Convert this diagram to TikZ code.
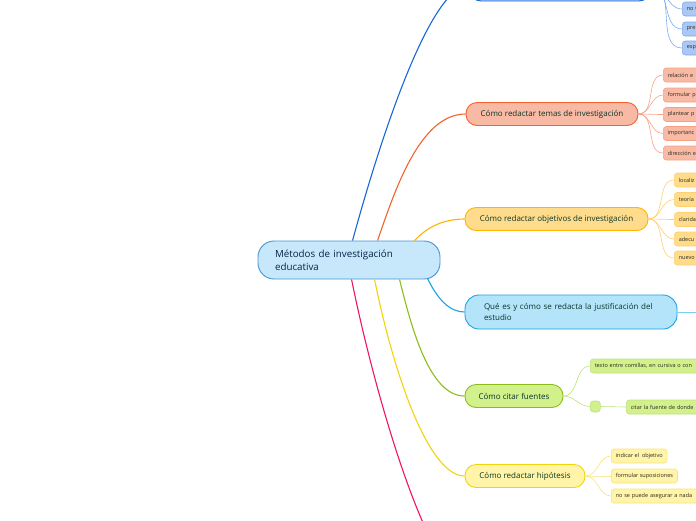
\documentclass[tikz,border=0pt]{standalone}
\usepackage{fontspec}
\setmainfont{Open Sans}
\usepackage{tikz}
\usetikzlibrary{positioning}
\usepackage{xcolor}

\definecolor{rootfill}{HTML}{C6E8FA}
\definecolor{rootline}{HTML}{4A93D0}
\definecolor{roottext}{HTML}{0A2448}
\definecolor{topictext}{HTML}{0A3526}
\definecolor{leaftext}{HTML}{2A2A20}
\definecolor{bluebranch}{HTML}{1666D8}
\definecolor{bluefill}{HTML}{A9C8F4}
\definecolor{bluetwig}{HTML}{7FAAEC}
\definecolor{redbranch}{HTML}{F2622A}
\definecolor{redfill}{HTML}{F9BAA5}
\definecolor{redtwig}{HTML}{F7A184}
\definecolor{orangebranch}{HTML}{FFB400}
\definecolor{orangefill}{HTML}{FFDC8C}
\definecolor{orangetwig}{HTML}{FFD070}
\definecolor{skybranch}{HTML}{1AA2E6}
\definecolor{skyfill}{HTML}{B3E4FA}
\definecolor{skytwig}{HTML}{7FCDF2}
\definecolor{greenbranch}{HTML}{8CBE1A}
\definecolor{greenfill}{HTML}{D2F08C}
\definecolor{greentwig}{HTML}{BFE27A}
\definecolor{yellowbranch}{HTML}{F2D40C}
\definecolor{yellowfill}{HTML}{FFF4A8}
\definecolor{yellowtwig}{HTML}{F7E27C}
\definecolor{pinkbranch}{HTML}{EE1468}

\begin{document}
\begin{tikzpicture}[
    x=1pt, y=-1pt,
    every node/.style={rectangle, draw, align=center, inner sep=0pt},
    rootbox/.style={rounded corners=16pt, minimum height=38pt, text width=148pt, inner xsep=17pt, align=left,
        fill=rootfill, draw=rootline, line width=0.9pt, text=roottext, font=\fontsize{9.8}{13}\selectfont},
    topic/.style={rounded corners=11pt, minimum height=23pt, line width=0.9pt, text=topictext,
        font=\fontsize{8}{11.5}\selectfont},
    leaf/.style={rounded corners=3pt, minimum height=14pt, anchor=west, align=left, inner xsep=4.5pt,
        line width=0.6pt, text=leaftext, font=\fontsize{5.5}{6.5}\selectfont},
    cut/.style={text width=120pt},
    branch/.style={line width=1.1pt},
    twig/.style={line width=0.6pt}
]
\useasboundingbox (0,0) rectangle (696,520);
\clip (0,0) rectangle (696,520);

% Nodes
\node[rootbox] (root) at (349,260) {Métodos de investigación\\educativa};
\node[topic, minimum width=180pt, minimum height=32pt, fill=bluefill, draw=bluebranch] (diseno) at (560,-15) {};
\node[topic, minimum width=172pt, fill=redfill, draw=redbranch] (temas) at (552,114) {Cómo redactar temas de investigación};
\node[topic, minimum width=183pt, fill=orangefill, draw=orangebranch] (objetivos) at (556.5,219) {Cómo redactar objetivos de investigación};
\node[topic, minimum height=34pt, rounded corners=14pt, text width=174pt, inner xsep=19pt, align=left,
    fill=skyfill, draw=skybranch] (justif) at (571,312) {Qué es y cómo se redacta la justificación del\\estudio};
\node[topic, minimum width=98pt, fill=greenfill, draw=greenbranch] (citar) at (514,396) {Cómo citar fuentes};
\node[topic, minimum width=120pt, fill=yellowfill, draw=yellowbranch] (hipotesis) at (525,476) {Cómo redactar hipótesis};
\coordinate (pinkend) at (462,580);
\coordinate (justend) at (705,312);

% Leaves
\node[leaf, cut, fill=bluefill, draw=bluetwig] (nota) at (682,9) {no t};
\node[leaf, cut, fill=bluefill, draw=bluetwig] (pres) at (682,29) {pre};
\node[leaf, cut, fill=bluefill, draw=bluetwig] (esp) at (682,48) {esp};

\node[leaf, cut, fill=redfill, draw=redtwig] (relacion) at (663,75) {relación e};
\node[leaf, cut, fill=redfill, draw=redtwig] (formular) at (663,95) {formular p};
\node[leaf, cut, fill=redfill, draw=redtwig] (plantear) at (663,114.5) {plantear p};
\node[leaf, cut, fill=redfill, draw=redtwig] (importancia) at (663,133.5) {importanc};
\node[leaf, cut, fill=redfill, draw=redtwig] (direccion) at (663,153) {dirección e};

\node[leaf, cut, fill=orangefill, draw=orangetwig] (localiz) at (674,180) {localiz};
\node[leaf, cut, fill=orangefill, draw=orangetwig] (teoria) at (674,199.5) {teoría};
\node[leaf, cut, fill=orangefill, draw=orangetwig] (claridad) at (674,219.5) {clarida};
\node[leaf, cut, fill=orangefill, draw=orangetwig] (adecua) at (674,239) {adecu};
\node[leaf, cut, fill=orangefill, draw=orangetwig] (nuevo) at (674,258) {nuevo};

\node[leaf, cut, text width=150pt, fill=greenfill, draw=greentwig] (comillas) at (590,366) {texto entre comillas, en cursiva o con};
\node[leaf, minimum width=10pt, minimum height=11pt, inner xsep=0pt, fill=greenfill, draw=greentwig] (caja) at (590,406.5) {};
\node[leaf, cut, fill=greenfill, draw=greentwig] (fuente) at (626,407) {citar la fuente de donde};

\node[leaf, fill=yellowfill, draw=yellowtwig] (indicar) at (611,456) {indicar el\ \ objetivo};
\node[leaf, fill=yellowfill, draw=yellowtwig] (suponer) at (611,476) {formular suposiciones};
\node[leaf, cut, fill=yellowfill, draw=yellowtwig] (asegurar) at (611,496) {no se puede asegurar a nada};

% Branches
\draw[branch, bluebranch] ([xshift=95pt]root.north west) .. controls (380,140) and (430,-15) .. (diseno.west);
\draw[branch, redbranch] ([xshift=120pt]root.north west) .. controls (395,190) and (420,114) .. (temas.west);
\draw[branch, orangebranch] ([xshift=157pt]root.north west) .. controls (428,226) and (445,219) .. (objetivos.west);
\draw[branch, skybranch] ([xshift=170pt, yshift=1pt]root.south west) .. controls (438,300) and (450,312) .. (justif.west);
\draw[branch, greenbranch] ([xshift=142pt]root.south west) .. controls (412,330) and (430,396) .. (citar.west);
\draw[branch, yellowbranch] ([xshift=117pt]root.south west) .. controls (395,380) and (430,476) .. (hipotesis.west);
\draw[branch, pinkbranch] ([xshift=94pt]root.south west) .. controls (376,400) and (426,565) .. (pinkend);

% Twigs
\draw[twig, bluetwig] (diseno.east) to[out=0, in=180] (nota.west);
\draw[twig, bluetwig] (diseno.east) to[out=0, in=180] (pres.west);
\draw[twig, bluetwig] (diseno.east) to[out=0, in=180] (esp.west);
\draw[twig, redtwig] (temas.east) to[out=0, in=180] (relacion.west);
\draw[twig, redtwig] (temas.east) to[out=0, in=180] (formular.west);
\draw[twig, redtwig] (temas.east) to[out=0, in=180] (plantear.west);
\draw[twig, redtwig] (temas.east) to[out=0, in=180] (importancia.west);
\draw[twig, redtwig] (temas.east) to[out=0, in=180] (direccion.west);
\draw[twig, orangetwig] (objetivos.east) to[out=0, in=180] (localiz.west);
\draw[twig, orangetwig] (objetivos.east) to[out=0, in=180] (teoria.west);
\draw[twig, orangetwig] (objetivos.east) to[out=0, in=180] (claridad.west);
\draw[twig, orangetwig] (objetivos.east) to[out=0, in=180] (adecua.west);
\draw[twig, orangetwig] (objetivos.east) to[out=0, in=180] (nuevo.west);
\draw[twig, skytwig] (justif.east) -- (justend);
\draw[twig, greentwig] (citar.east) to[out=0, in=180] (comillas.west);
\draw[twig, greentwig] (citar.east) to[out=0, in=180] (caja.west);
\draw[twig, greentwig] (caja.east) -- (fuente.west);
\draw[twig, yellowtwig] (hipotesis.east) to[out=0, in=180] (indicar.west);
\draw[twig, yellowtwig] (hipotesis.east) to[out=0, in=180] (suponer.west);
\draw[twig, yellowtwig] (hipotesis.east) to[out=0, in=180] (asegurar.west);

\end{tikzpicture}
\end{document}
